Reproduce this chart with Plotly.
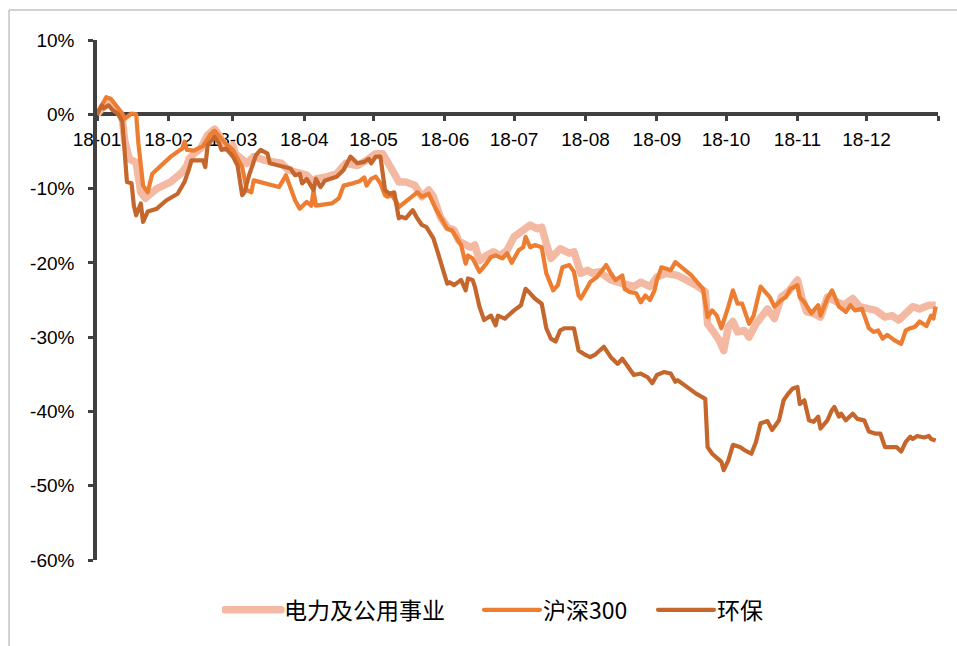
import plotly.graph_objects as go

# ---------------- data (cumulative return, %) ----------------
power_dates = [
    "2018-01-01", "2018-01-05", "2018-01-07", "2018-01-09", "2018-01-11", "2018-01-12", "2018-01-13",
    "2018-01-15", "2018-01-18", "2018-01-20", "2018-01-22", "2018-01-23", "2018-01-27", "2018-02-02",
    "2018-02-07", "2018-02-09", "2018-02-10", "2018-02-12", "2018-02-15", "2018-02-18", "2018-02-21",
    "2018-02-23", "2018-02-26", "2018-03-01", "2018-03-02", "2018-03-07", "2018-03-10", "2018-03-15",
    "2018-03-22", "2018-03-25", "2018-03-30", "2018-04-02", "2018-04-05", "2018-04-06", "2018-04-11",
    "2018-04-15", "2018-04-19", "2018-04-24", "2018-04-28", "2018-05-02", "2018-05-05", "2018-05-07",
    "2018-05-10", "2018-05-12", "2018-05-15", "2018-05-19", "2018-05-22", "2018-05-25", "2018-05-27",
    "2018-05-30", "2018-06-02", "2018-06-05", "2018-06-07", "2018-06-09", "2018-06-12", "2018-06-14",
    "2018-06-16", "2018-06-19", "2018-06-22", "2018-06-25", "2018-06-28", "2018-07-01", "2018-07-04",
    "2018-07-06", "2018-07-08", "2018-07-11", "2018-07-13", "2018-07-15", "2018-07-17", "2018-07-21",
    "2018-07-25", "2018-07-27", "2018-07-30", "2018-08-02", "2018-08-04", "2018-08-07", "2018-08-12",
    "2018-08-15", "2018-08-19", "2018-08-22", "2018-08-25", "2018-08-29", "2018-09-01", "2018-09-05",
    "2018-09-10", "2018-09-14", "2018-09-18", "2018-09-22", "2018-09-23", "2018-09-26", "2018-09-28",
    "2018-09-30", "2018-10-02", "2018-10-04", "2018-10-06", "2018-10-09", "2018-10-11", "2018-10-14",
    "2018-10-17", "2018-10-19", "2018-10-22", "2018-10-25", "2018-10-28", "2018-10-31", "2018-11-01",
    "2018-11-03", "2018-11-05", "2018-11-08", "2018-11-11", "2018-11-14", "2018-11-17", "2018-11-21",
    "2018-11-25", "2018-11-28", "2018-12-02", "2018-12-05", "2018-12-09", "2018-12-12", "2018-12-15",
    "2018-12-17", "2018-12-21", "2018-12-24", "2018-12-28", "2018-12-31",
]
power_values = [
    0.0, 1.5, 1.6, 1.0, 0.1, -0.6, -3.5,
    -6.0, -6.5, -10.5, -11.3, -11.0, -10.0, -9.1,
    -7.8, -6.9, -6.0, -5.3, -4.6, -2.8, -2.0,
    -2.8, -4.6, -4.2, -5.3, -6.6, -5.7, -6.2,
    -6.6, -7.5, -8.0, -8.2, -9.1, -8.7, -8.4,
    -8.0, -6.6, -6.9, -6.2, -5.3, -5.3, -6.6,
    -8.0, -9.1, -9.1, -9.6, -11.1, -10.2, -11.1,
    -13.8, -15.2, -15.6, -17.0, -17.4, -17.9, -17.6,
    -19.7, -19.0, -18.5, -19.0, -18.3, -16.5, -15.8,
    -15.2, -14.9, -15.4, -15.2, -17.4, -19.4, -18.1,
    -18.7, -18.5, -21.4, -21.0, -21.4, -21.2, -22.3,
    -22.6, -23.0, -23.2, -22.6, -23.2, -21.9, -21.4,
    -21.7, -22.3, -23.0, -23.9, -28.2, -29.5, -30.4,
    -31.8, -28.6, -27.9, -29.3, -29.1, -30.0, -28.2,
    -26.8, -26.2, -27.5, -24.6, -23.9, -22.8, -22.3,
    -24.8, -26.6, -26.8, -27.3, -24.6, -25.0, -25.7,
    -24.8, -25.9, -26.2, -26.4, -27.3, -27.1, -27.7,
    -27.1, -25.9, -26.2, -25.7, -25.7,
]

hs300_dates = [
    "2018-01-01", "2018-01-05", "2018-01-07", "2018-01-12", "2018-01-13", "2018-01-16", "2018-01-18",
    "2018-01-19", "2018-01-21", "2018-01-23", "2018-01-25", "2018-01-29", "2018-02-02", "2018-02-07",
    "2018-02-08", "2018-02-09", "2018-02-12", "2018-02-16", "2018-02-19", "2018-02-21", "2018-02-23",
    "2018-02-26", "2018-03-01", "2018-03-05", "2018-03-07", "2018-03-09", "2018-03-10", "2018-03-15",
    "2018-03-21", "2018-03-24", "2018-03-28", "2018-03-30", "2018-04-02", "2018-04-04", "2018-04-05",
    "2018-04-06", "2018-04-13", "2018-04-16", "2018-04-18", "2018-04-22", "2018-04-25", "2018-04-27",
    "2018-04-28", "2018-04-30", "2018-05-02", "2018-05-04", "2018-05-06", "2018-05-07", "2018-05-09",
    "2018-05-11", "2018-05-12", "2018-05-14", "2018-05-17", "2018-05-20", "2018-05-22", "2018-05-25",
    "2018-05-28", "2018-05-31", "2018-06-02", "2018-06-04", "2018-06-06", "2018-06-08", "2018-06-10",
    "2018-06-11", "2018-06-13", "2018-06-16", "2018-06-19", "2018-06-21", "2018-06-23", "2018-06-26",
    "2018-06-28", "2018-06-30", "2018-07-03", "2018-07-05", "2018-07-06", "2018-07-08", "2018-07-10",
    "2018-07-13", "2018-07-15", "2018-07-18", "2018-07-20", "2018-07-22", "2018-07-25", "2018-07-27",
    "2018-07-29", "2018-07-30", "2018-08-02", "2018-08-03", "2018-08-06", "2018-08-10", "2018-08-12",
    "2018-08-14", "2018-08-17", "2018-08-18", "2018-08-20", "2018-08-23", "2018-08-25", "2018-08-27",
    "2018-08-29", "2018-08-31", "2018-09-01", "2018-09-03", "2018-09-05", "2018-09-07", "2018-09-09",
    "2018-09-12", "2018-09-16", "2018-09-19", "2018-09-21", "2018-09-23", "2018-09-25", "2018-09-27",
    "2018-09-29", "2018-10-02", "2018-10-04", "2018-10-06", "2018-10-08", "2018-10-11", "2018-10-13",
    "2018-10-16", "2018-10-18", "2018-10-20", "2018-10-22", "2018-10-25", "2018-10-27", "2018-10-29",
    "2018-11-01", "2018-11-02", "2018-11-04", "2018-11-07", "2018-11-10", "2018-11-11", "2018-11-14",
    "2018-11-16", "2018-11-17", "2018-11-19", "2018-11-22", "2018-11-24", "2018-11-26", "2018-11-29",
    "2018-12-02", "2018-12-04", "2018-12-06", "2018-12-08", "2018-12-10", "2018-12-13", "2018-12-16",
    "2018-12-18", "2018-12-20", "2018-12-22", "2018-12-24", "2018-12-26", "2018-12-27", "2018-12-29",
    "2018-12-30", "2018-12-31",
]
hs300_values = [
    0.0, 2.3, 2.1, 0.1, -0.6, 0.1, 0.0,
    -4.0, -9.6, -10.5, -8.0, -6.9, -5.7, -4.6,
    -3.7, -4.8, -4.9, -4.3, -2.8, -2.2, -3.0,
    -4.0, -4.8, -7.1, -10.2, -10.5, -8.9, -9.3,
    -9.8, -8.2, -11.6, -12.7, -11.8, -12.3, -10.3,
    -12.3, -12.0, -11.3, -9.6, -9.3, -9.0, -8.5,
    -9.6, -8.7, -8.4, -9.3, -10.9, -11.1, -10.9,
    -11.8, -12.5, -12.0, -11.3, -10.5, -11.1, -10.7,
    -12.7, -14.3, -15.4, -15.6, -16.5, -17.6, -20.1,
    -19.0, -19.4, -21.2, -20.1, -19.2, -19.0, -19.4,
    -18.7, -20.0, -18.3, -17.9, -16.5, -17.9, -17.6,
    -17.9, -21.4, -23.7, -23.0, -20.6, -20.3, -21.2,
    -24.4, -24.8, -23.2, -22.6, -21.9, -20.3, -21.4,
    -22.3, -21.7, -23.5, -23.9, -24.1, -25.3, -24.4,
    -25.0, -23.7, -22.3, -20.6, -20.8, -21.0, -19.9,
    -20.6, -21.7, -22.8, -23.5, -27.3, -26.4, -27.1,
    -28.8, -25.9, -23.7, -25.5, -25.5, -28.2, -27.1,
    -23.2, -23.9, -24.6, -25.9, -25.0, -24.6, -23.5,
    -23.0, -24.6, -25.3, -26.8, -25.7, -27.1, -24.8,
    -23.7, -24.4, -25.9, -26.6, -25.7, -26.4, -26.2,
    -28.8, -29.3, -29.1, -30.2, -29.7, -30.4, -30.9,
    -29.1, -28.8, -28.6, -27.9, -28.2, -28.5, -27.1,
    -27.5, -25.9,
]

env_dates = [
    "2018-01-01", "2018-01-03", "2018-01-04", "2018-01-06", "2018-01-08", "2018-01-10", "2018-01-12",
    "2018-01-13", "2018-01-14", "2018-01-16", "2018-01-17", "2018-01-18", "2018-01-20", "2018-01-21",
    "2018-01-23", "2018-01-27", "2018-01-31", "2018-02-05", "2018-02-08", "2018-02-10", "2018-02-11",
    "2018-02-14", "2018-02-16", "2018-02-17", "2018-02-18", "2018-02-21", "2018-02-23", "2018-02-24",
    "2018-02-26", "2018-03-01", "2018-03-03", "2018-03-05", "2018-03-06", "2018-03-08", "2018-03-11",
    "2018-03-13", "2018-03-16", "2018-03-17", "2018-03-21", "2018-03-26", "2018-03-28", "2018-03-30",
    "2018-03-31", "2018-04-02", "2018-04-05", "2018-04-06", "2018-04-08", "2018-04-10", "2018-04-15",
    "2018-04-18", "2018-04-21", "2018-04-24", "2018-04-27", "2018-04-29", "2018-04-30", "2018-05-02",
    "2018-05-04", "2018-05-06", "2018-05-08", "2018-05-10", "2018-05-12", "2018-05-13", "2018-05-15",
    "2018-05-18", "2018-05-20", "2018-05-22", "2018-05-24", "2018-05-25", "2018-05-27", "2018-05-29",
    "2018-05-31", "2018-06-02", "2018-06-03", "2018-06-05", "2018-06-08", "2018-06-10", "2018-06-11",
    "2018-06-13", "2018-06-14", "2018-06-16", "2018-06-18", "2018-06-21", "2018-06-23", "2018-06-24",
    "2018-06-27", "2018-06-30", "2018-07-01", "2018-07-04", "2018-07-06", "2018-07-08", "2018-07-10",
    "2018-07-13", "2018-07-15", "2018-07-17", "2018-07-19", "2018-07-21", "2018-07-23", "2018-07-27",
    "2018-07-29", "2018-08-01", "2018-08-03", "2018-08-05", "2018-08-07", "2018-08-09", "2018-08-12",
    "2018-08-15", "2018-08-17", "2018-08-20", "2018-08-22", "2018-08-25", "2018-08-28", "2018-08-30",
    "2018-09-01", "2018-09-04", "2018-09-07", "2018-09-09", "2018-09-10", "2018-09-14", "2018-09-18",
    "2018-09-22", "2018-09-23", "2018-09-25", "2018-09-28", "2018-09-29", "2018-09-30", "2018-10-02",
    "2018-10-04", "2018-10-07", "2018-10-09", "2018-10-12", "2018-10-14", "2018-10-16", "2018-10-19",
    "2018-10-21", "2018-10-24", "2018-10-26", "2018-10-28", "2018-10-30", "2018-11-01", "2018-11-02",
    "2018-11-04", "2018-11-06", "2018-11-08", "2018-11-10", "2018-11-11", "2018-11-14", "2018-11-16",
    "2018-11-17", "2018-11-19", "2018-11-20", "2018-11-22", "2018-11-25", "2018-11-27", "2018-11-30",
    "2018-12-02", "2018-12-05", "2018-12-07", "2018-12-09", "2018-12-11", "2018-12-14", "2018-12-16",
    "2018-12-18", "2018-12-20", "2018-12-21", "2018-12-23", "2018-12-26", "2018-12-28", "2018-12-29",
    "2018-12-31",
]
env_values = [
    0.0, 1.2, 0.8, 1.2, 0.5, 0.1, -1.0,
    -5.1, -9.1, -9.3, -12.3, -13.6, -12.0, -14.5,
    -13.1, -12.7, -11.6, -10.7, -9.1, -7.3, -6.2,
    -6.2, -6.2, -7.1, -4.2, -3.0, -3.9, -4.8,
    -4.6, -5.7, -6.9, -10.9, -10.5, -8.2, -5.5,
    -4.8, -5.3, -6.6, -6.9, -7.3, -8.2, -8.0,
    -9.3, -8.7, -10.2, -8.7, -9.8, -8.9, -8.4,
    -7.5, -5.7, -6.6, -6.4, -6.0, -6.6, -5.7,
    -5.7, -10.2, -10.7, -10.5, -14.0, -13.8, -14.0,
    -12.9, -14.0, -14.9, -15.2, -15.8, -16.7, -18.7,
    -21.0, -22.8, -22.6, -23.0, -22.3, -23.7, -22.1,
    -22.3, -23.2, -25.9, -27.7, -27.1, -28.4, -27.1,
    -27.5, -26.6, -26.4, -25.7, -23.5, -24.1, -24.8,
    -25.5, -28.8, -30.2, -30.6, -29.1, -28.8, -28.8,
    -31.8, -32.4, -32.7, -32.4, -31.8, -31.3, -32.7,
    -33.6, -32.9, -34.2, -35.1, -34.9, -35.4, -36.2,
    -35.1, -34.7, -34.9, -36.0, -35.8, -36.7, -37.6,
    -38.3, -44.8, -45.7, -46.4, -46.8, -47.9, -46.6,
    -44.5, -44.8, -45.2, -45.7, -44.1, -41.6, -41.3,
    -42.5, -41.2, -38.5, -37.6, -36.9, -36.7, -39.0,
    -38.5, -41.2, -41.4, -40.7, -42.3, -41.2, -39.8,
    -39.4, -40.7, -40.3, -41.2, -40.3, -41.0, -41.2,
    -42.7, -43.0, -43.0, -44.8, -44.8, -44.8, -45.4,
    -44.1, -43.4, -43.7, -43.3, -43.5, -43.3, -43.7,
    -43.9,
]

series_names = ["电力及公用事业", "沪深300", "环保"]

month_ticks = [
    "2018-01-01", "2018-02-01", "2018-03-01", "2018-04-01", "2018-05-01", "2018-06-01", "2018-07-01",
    "2018-08-01", "2018-09-01", "2018-10-01", "2018-11-01", "2018-12-01", "2019-01-01",
]
month_labels = ["18-01", "18-02", "18-03", "18-04", "18-05", "18-06", "18-07",
                "18-08", "18-09", "18-10", "18-11", "18-12", ""]

y_ticks = [10, 0, -10, -20, -30, -40, -50, -60]
y_labels = ["10%", "0%", "-10%", "-20%", "-30%", "-40%", "-50%", "-60%"]

# ---------------- figure ----------------
AXIS = "#404040"
TICKFONT = dict(family="Liberation Sans, Arial, sans-serif", size=19, color="#000000")
LEGFONT = dict(family="Noto Sans CJK SC, sans-serif", size=23, color="#000000")

fig = go.Figure()
fig.add_trace(go.Scatter(x=power_dates, y=power_values, name=series_names[0], mode="lines",
                         line=dict(color="#F4B9A2", width=7.5), legend="legend"))
fig.add_trace(go.Scatter(x=hs300_dates, y=hs300_values, name=series_names[1], mode="lines",
                         line=dict(color="#ED7D31", width=4.2), legend="legend2"))
fig.add_trace(go.Scatter(x=env_dates, y=env_values, name=series_names[2], mode="lines",
                         line=dict(color="#C5672C", width=4.2), legend="legend3"))

leg_common = dict(orientation="h", xanchor="left", yanchor="middle", y=-0.096,
                  font=LEGFONT, itemwidth=52, bgcolor="rgba(0,0,0,0)", borderwidth=0)

fig.update_layout(
    width=957, height=646, autosize=False,
    margin=dict(l=97, r=19, t=40, b=86),
    paper_bgcolor="#FFFFFF", plot_bgcolor="#FFFFFF",
    showlegend=True,
    legend=dict(leg_common, x=(222 - 97) / 841),
    legend2=dict(leg_common, x=(481 - 97) / 841),
    legend3=dict(leg_common, x=(655 - 97) / 841),
    xaxis=dict(type="date", range=["2018-01-01", "2019-01-01"],
               tickmode="array", tickvals=month_ticks, ticktext=month_labels,
               anchor="free", position=60 / 70, side="bottom",
               showline=True, linecolor=AXIS, linewidth=4,
               ticks="outside", ticklen=5, tickwidth=3, tickcolor=AXIS, ticklabelstandoff=2,
               showgrid=False, zeroline=False, tickfont=TICKFONT, layer="below traces"),
    yaxis=dict(range=[-60, 10], tickmode="array", tickvals=y_ticks, ticktext=y_labels,
               showline=True, linecolor=AXIS, linewidth=3.5,
               ticks="outside", ticklen=5, tickwidth=3, tickcolor=AXIS, ticklabelstandoff=10,
               showgrid=False, zeroline=False, tickfont=TICKFONT),
    shapes=[
        dict(type="line", xref="paper", yref="paper", x0=-0.1046, x1=1.2, y0=1.0577, y1=1.0577,
             line=dict(color="#A6A6A6", width=1)),
        dict(type="line", xref="paper", yref="paper", x0=-0.1046, x1=-0.1046, y0=1.0577, y1=-0.2,
             line=dict(color="#A6A6A6", width=1)),
    ],
)

post_js = """
document.body.style.margin = '0';
var gd = document.getElementById('{plot_id}');
function tweak() {
  gd.querySelectorAll('.legendlines path').forEach(function (p) {
    p.setAttribute('d', 'M3,0h56');
    p.style.strokeLinecap = 'round';
  });
  gd.querySelectorAll('.scatterlayer .js-line').forEach(function (p) {
    p.style.strokeLinejoin = 'round';
  });
}
tweak();
if (gd.on) { gd.on('plotly_afterplot', tweak); }
"""

fig.write_html("out.html", post_script=post_js, config={"displayModeBar": False})
